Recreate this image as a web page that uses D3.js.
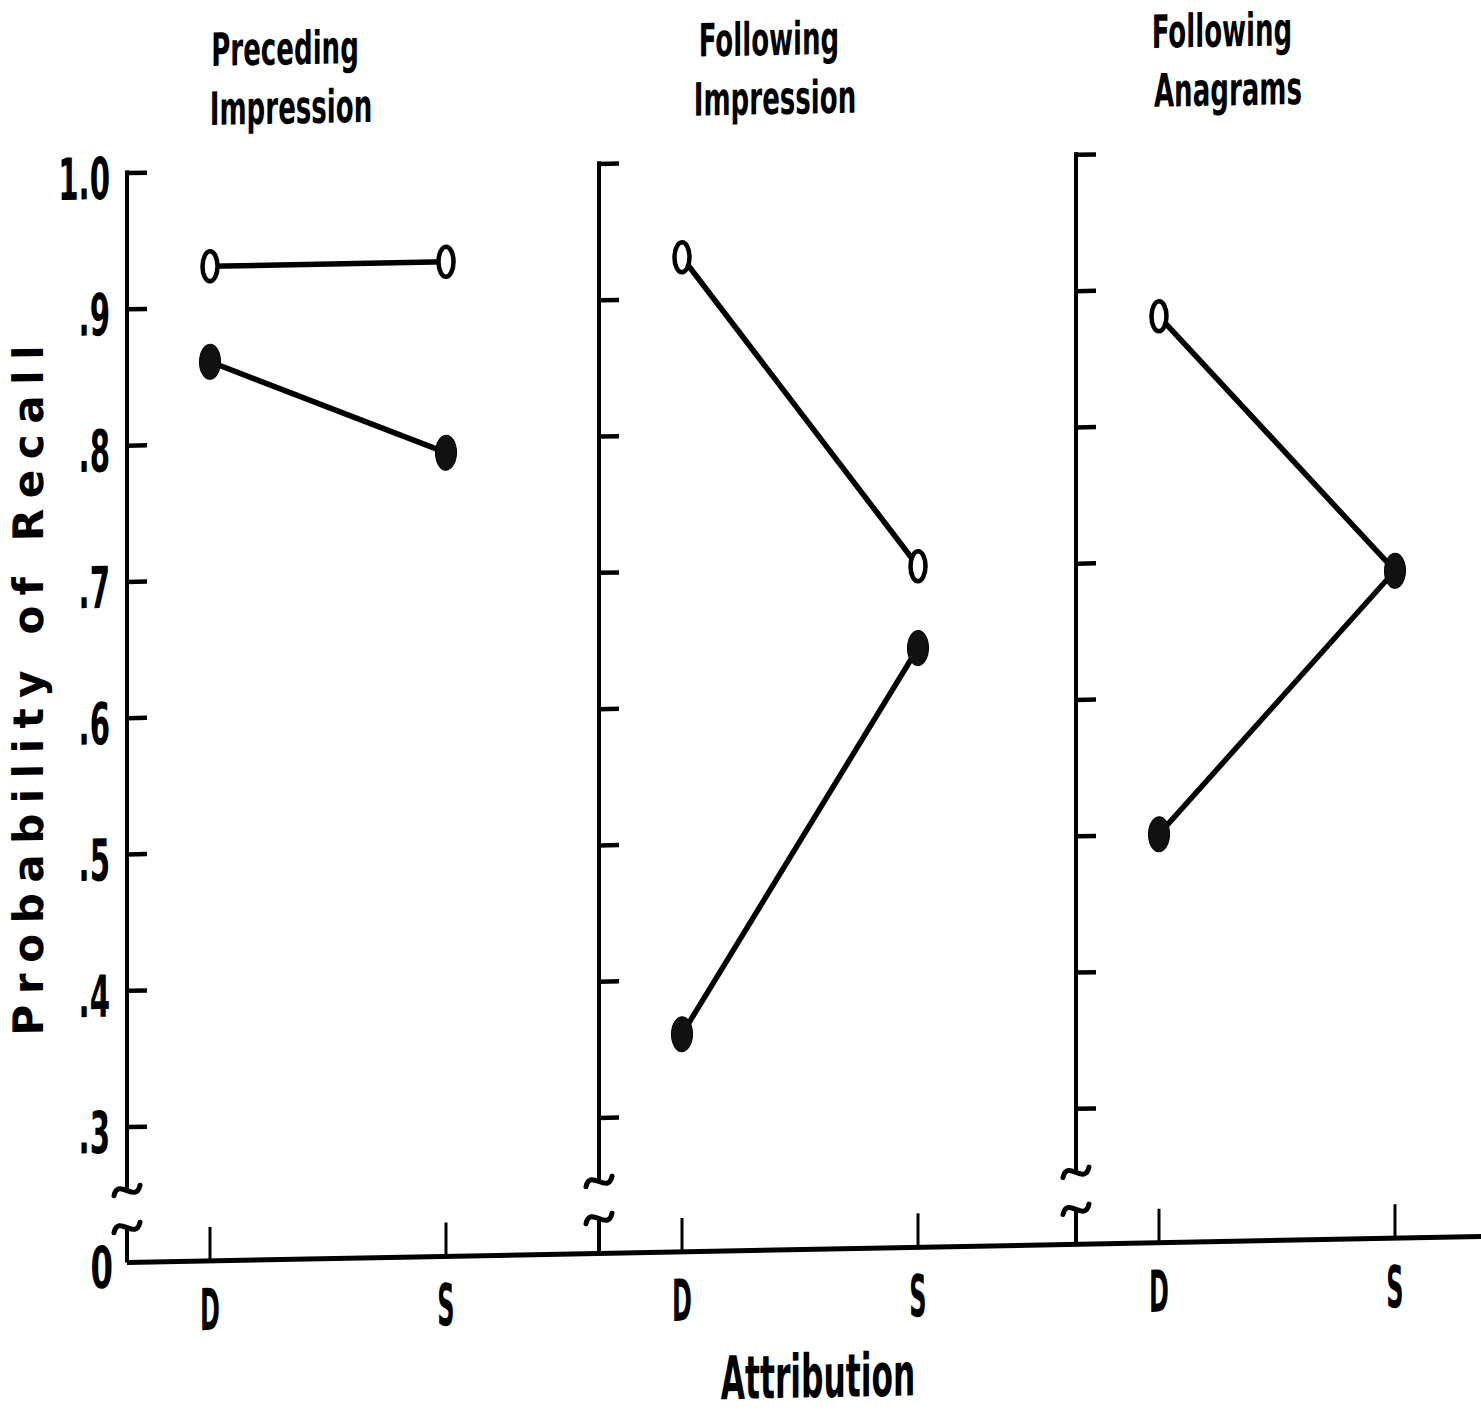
<!DOCTYPE html>
<html>
<head>
<meta charset="utf-8">
<script src="https://cdn.jsdelivr.net/npm/d3@7"></script>
<style>
  body { margin: 0; background: #fff; }
  svg { display: block; overflow: visible; }
</style>
</head>
<body>
<div id="chart"></div>
<script>
// panel titles, two lines each
const panelTitles = [
  ["Preceding", "Impression"],
  ["Following", "Impression"],
  ["Following", "Anagrams"]
];
const attributions = ["D", "S"];
// probability of recall per panel, [D, S]
const openValues = [[0.93, 0.93], [0.93, 0.70], [0.88, 0.69]];
const filledValues = [[0.86, 0.79], [0.36, 0.64], [0.50, 0.69]];
const yTickValues = [0.3, 0.4, 0.5, 0.6, 0.7, 0.8, 0.9, 1.0];
const yTickLabels = [".3", ".4", ".5", ".6", ".7", ".8", ".9", "1.0"];
const zeroLabel = "0";
const yTitle = "Probability of Recall";
const xTitle = "Attribution";

// layout
const width = 1481, height = 1412;
const skewDeg = -1.1;            // the scanned figure is slightly tilted
const panelX = [127, 599, 1076]; // left axis of each panel
const titleDx = [158, 170, 146];
const baseY = 1265;
const breakHi = 1193, breakLo = 1230;
const narrow = "'DejaVu Sans Condensed', 'DejaVu Sans', sans-serif";

const svg = d3.select("#chart").append("svg")
  .attr("width", width)
  .attr("height", height);

svg.append("rect").attr("width", width).attr("height", height).attr("fill", "#fff");

const root = svg.append("g")
  .attr("transform", `skewY(${skewDeg})`);

const y = d3.scaleLinear().domain([0.3, 1.0]).range([1129, 175]);

// condensed lettering: draw text then squeeze it horizontally
function squeezed(sel, txt, x, yPos, size, sx, anchor, weight) {
  return sel.append("text")
    .attr("transform", `translate(${x},${yPos}) scale(${sx},1)`)
    .attr("text-anchor", anchor)
    .attr("font-family", narrow)
    .attr("font-size", size)
    .attr("font-weight", weight)
    .attr("fill", "#000")
    .text(txt);
}

function tilde(cx, cy) {
  return `M${cx - 13},${cy + 5} C${cx - 9},${cy - 14} ${cx + 9},${cy + 14} ${cx + 13},${cy - 5}`;
}

// baseline (zero)
root.append("line")
  .attr("x1", panelX[0]).attr("x2", width + 40)
  .attr("y1", baseY).attr("y2", baseY)
  .attr("stroke", "#000").attr("stroke-width", 5);

const line = d3.line();

panelTitles.forEach((title, i) => {
  const ax = panelX[i];
  const g = root.append("g").attr("class", "panel");
  const x = d3.scalePoint().domain(attributions).range([ax + 83, ax + 319]);

  // y ticks
  const axisG = g.append("g")
    .attr("transform", `translate(${ax},0)`)
    .call(d3.axisRight(y).tickValues(yTickValues).tickSize(20).tickSizeOuter(0).tickFormat(""));
  axisG.select(".domain").remove();
  axisG.selectAll(".tick line").attr("stroke", "#000").attr("stroke-width", 4.5);

  // vertical axis with break down to zero
  g.append("path")
    .attr("d", `M${ax},${y(1.0) - 2.2}V${breakHi}`)
    .attr("fill", "none").attr("stroke", "#000").attr("stroke-width", 4);
  g.append("path")
    .attr("d", tilde(ax, breakHi) + tilde(ax, breakLo))
    .attr("fill", "none").attr("stroke", "#000").attr("stroke-width", 5)
    .attr("stroke-linecap", "round");
  g.append("path")
    .attr("d", `M${ax},${breakLo}V${baseY}`)
    .attr("fill", "none").attr("stroke", "#000").attr("stroke-width", 4);

  // x ticks
  g.selectAll(".xtick").data(attributions).join("line")
    .attr("class", "xtick")
    .attr("x1", d => x(d)).attr("x2", d => x(d))
    .attr("y1", baseY).attr("y2", baseY - 34)
    .attr("stroke", "#000").attr("stroke-width", 3);

  attributions.forEach(d => squeezed(g, d, x(d), 1334, 58, 0.46, "middle", "bold"));

  // titles
  squeezed(g, title[0], ax + titleDx[i], 70, 46, 0.63, "middle", "bold");
  squeezed(g, title[1], ax + titleDx[i] + 6, 129, 46, 0.63, "middle", "bold");

  // series lines
  const openPts = attributions.map((d, j) => [x(d), y(openValues[i][j])]);
  const filledPts = attributions.map((d, j) => [x(d), y(filledValues[i][j])]);

  g.append("path").attr("d", line(openPts))
    .attr("fill", "none").attr("stroke", "#000").attr("stroke-width", 5.5);
  g.append("path").attr("d", line(filledPts))
    .attr("fill", "none").attr("stroke", "#000").attr("stroke-width", 5.5);

  g.selectAll(".open").data(openPts).join("ellipse")
    .attr("class", "open")
    .attr("cx", d => d[0]).attr("cy", d => d[1])
    .attr("rx", 7.5).attr("ry", 15)
    .attr("fill", "#fff").attr("stroke", "#000").attr("stroke-width", 4.5);
  g.selectAll(".filled").data(filledPts).join("ellipse")
    .attr("class", "filled")
    .attr("cx", d => d[0]).attr("cy", d => d[1])
    .attr("rx", 10.5).attr("ry", 17.5)
    .attr("fill", "#111").attr("stroke", "#000").attr("stroke-width", 1);
});

// y tick labels, first panel only
yTickValues.forEach((v, k) => squeezed(root, yTickLabels[k], 110, y(v) + 26, 58, 0.56, "end", "bold"));
squeezed(root, zeroLabel, 113, 1290, 58, 0.62, "end", "bold");

// axis titles
root.append("text")
  .attr("transform", `translate(43,691) rotate(-90)`)
  .attr("text-anchor", "middle")
  .attr("font-family", "'DejaVu Sans', sans-serif")
  .attr("font-size", 42)
  .attr("font-weight", "bold")
  .attr("textLength", 690)
  .attr("lengthAdjust", "spacing")
  .text(yTitle);

squeezed(root, xTitle, 818, 1413, 60, 0.58, "middle", "bold");
</script>
</body>
</html>
